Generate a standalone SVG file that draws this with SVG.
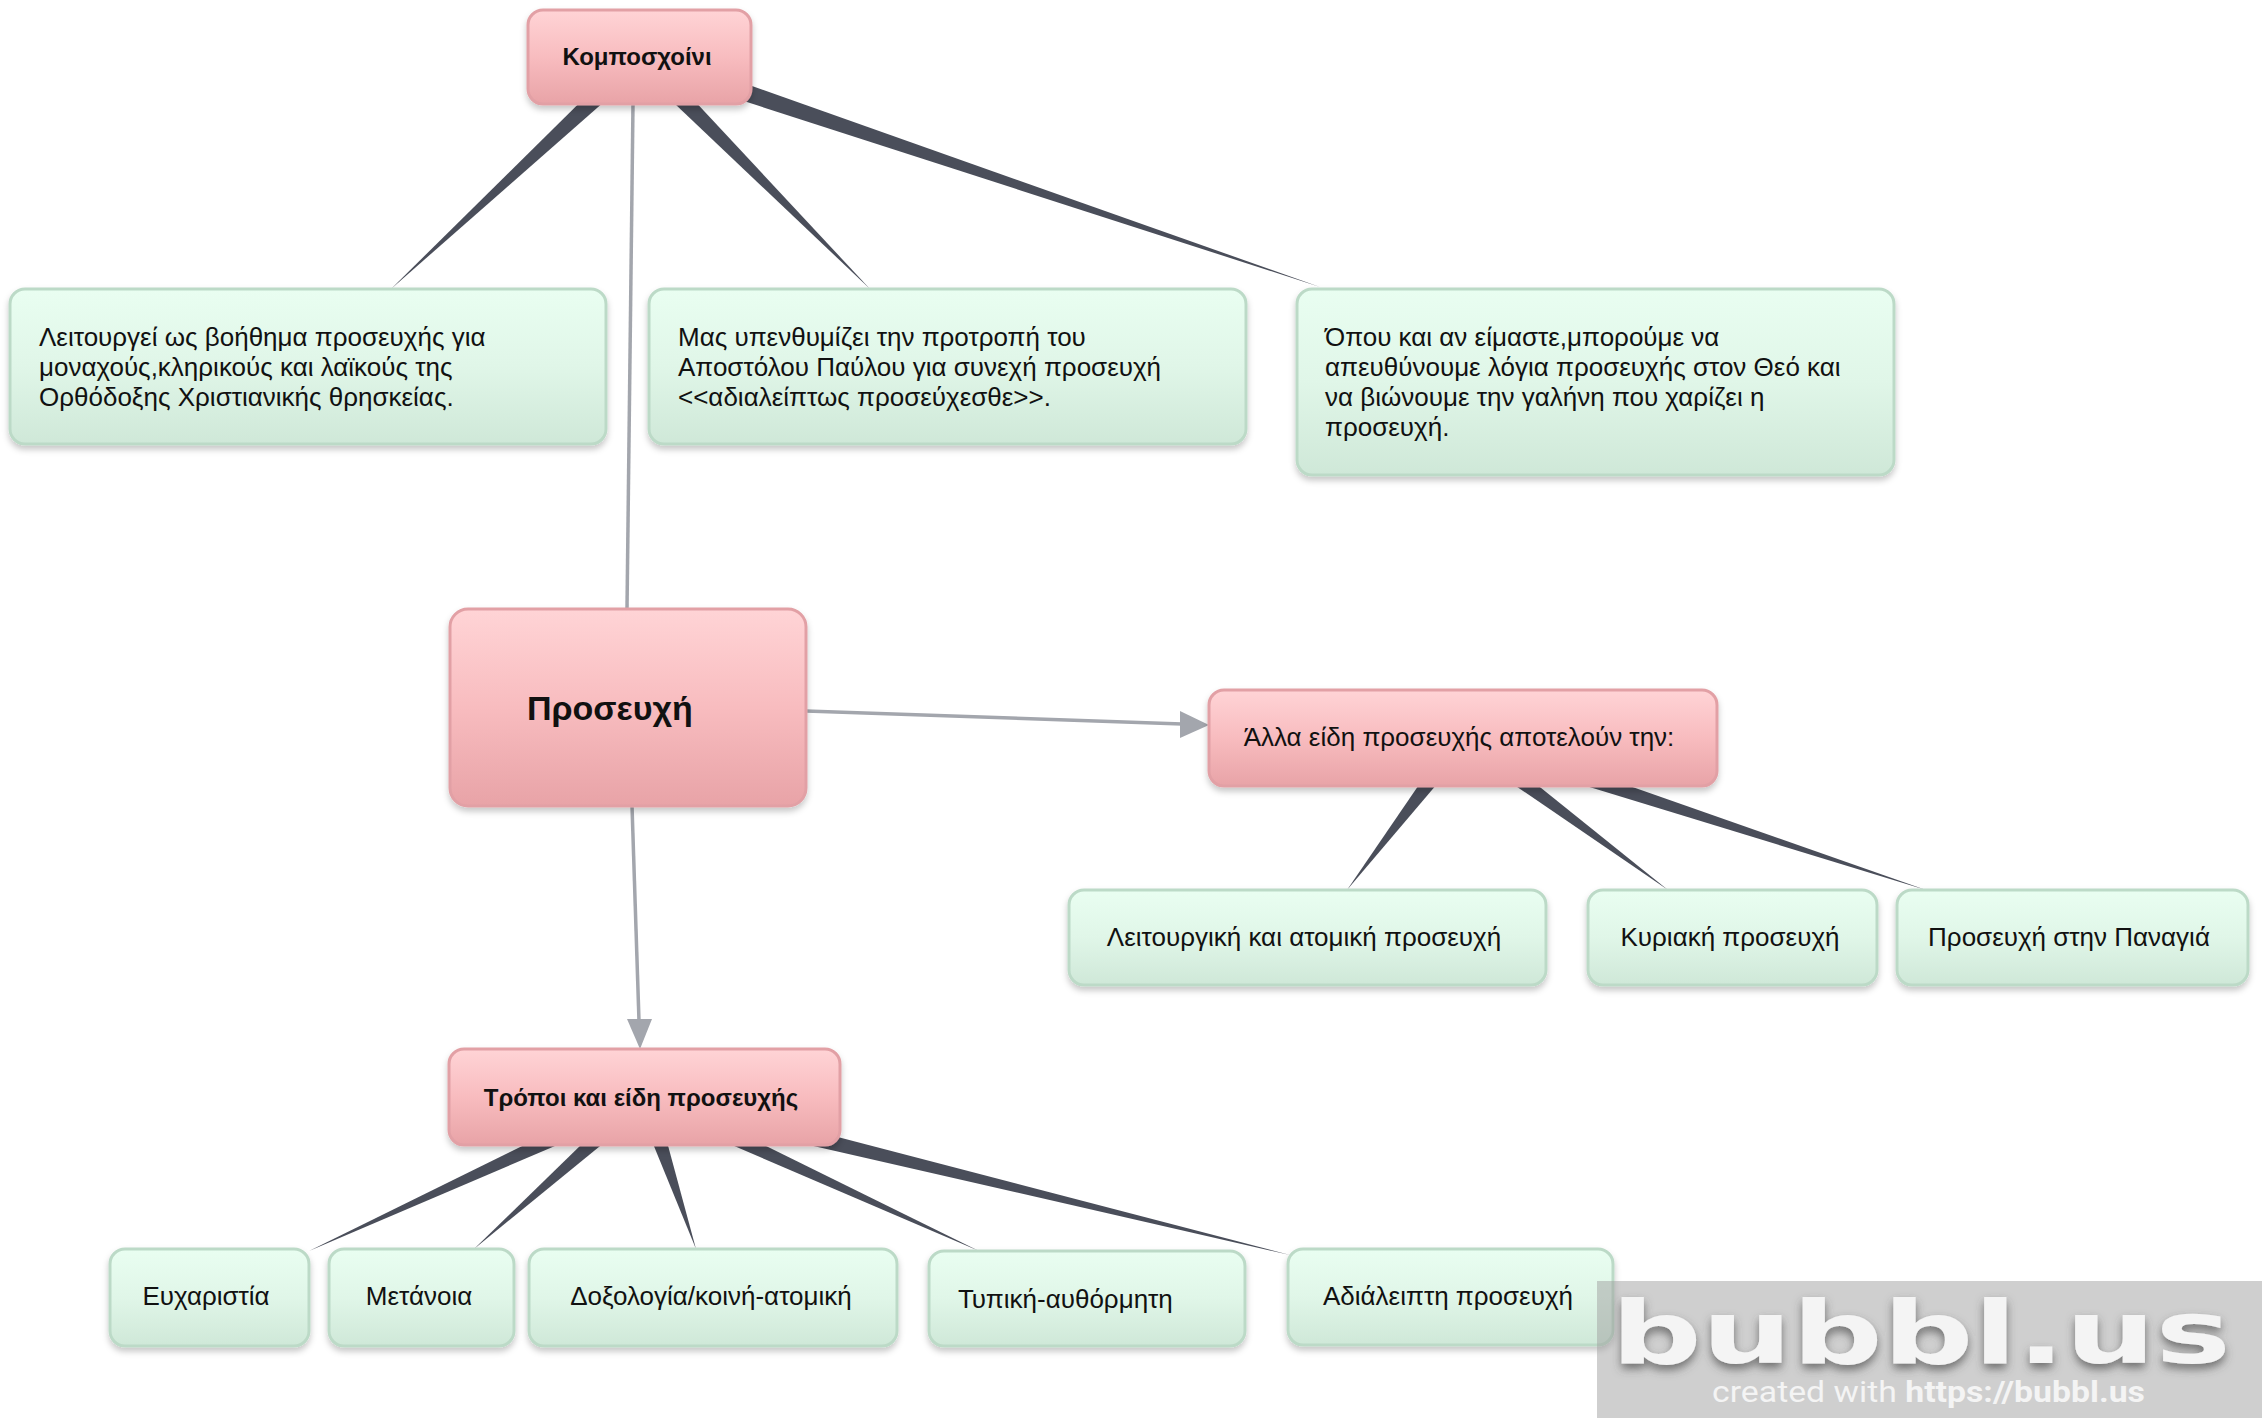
<svg xmlns="http://www.w3.org/2000/svg" width="2262" height="1418" viewBox="0 0 2262 1418">
  <defs>
    <linearGradient id="gPink" x1="0" y1="0" x2="0" y2="1">
      <stop offset="0" stop-color="#ffd4d6"/>
      <stop offset="0.5" stop-color="#f8bcbf"/>
      <stop offset="1" stop-color="#e8a3a7"/>
    </linearGradient>
    <linearGradient id="gGreen" x1="0" y1="0" x2="0" y2="1">
      <stop offset="0" stop-color="#e9fef1"/>
      <stop offset="0.5" stop-color="#e0f6e8"/>
      <stop offset="1" stop-color="#cfe8d8"/>
    </linearGradient>
    <filter id="shadow" x="-10%" y="-10%" width="120%" height="130%">
      <feDropShadow dx="0" dy="4" stdDeviation="3" flood-color="#000" flood-opacity="0.22"/>
    </filter>
    <filter id="logoShadow" x="-5%" y="-20%" width="110%" height="150%">
      <feDropShadow dx="0" dy="5" stdDeviation="5" flood-color="#444" flood-opacity="0.7"/>
    </filter>
  </defs>
  <style>
    .pink { fill: url(#gPink); stroke: #e2a0a5; stroke-width: 3; filter: url(#shadow); }
    .green { fill: url(#gGreen); stroke: #bcdac7; stroke-width: 3; filter: url(#shadow); }
    .t { font-family: "Liberation Sans", Arial, sans-serif; font-size: 26px; fill: #111; }
    .tb { font-family: "Liberation Sans", Arial, sans-serif; font-size: 24px; font-weight: bold; fill: #111; }
    .mid { text-anchor: middle; }
    .taper { fill: #4a4e5a; }
    .arrow { stroke: #a3a6ad; stroke-width: 3.5; fill: none; }
    .head { fill: #a3a6ad; }
  </style>

  <rect width="2262" height="1418" fill="#ffffff"/>

  <g id="connectors">
    <!-- Κομποσχοίνι children -->
    <polygon class="taper" points="633.2,49.7 646.8,64.3 391,289"/>
    <polygon class="taper" points="632.9,64.0 647.1,50.0 870,289"/>
    <polygon class="taper" points="636.8,66.5 643.2,47.5 1320,287"/>
    <!-- Άλλα children -->
    <polygon class="taper" points="1455.1,731.9 1470.9,744.1 1347,890"/>
    <polygon class="taper" points="1455.9,745.1 1470.1,730.9 1668,890"/>
    <polygon class="taper" points="1458.2,746.8 1467.8,729.2 1926,890"/>
    <!-- Τρόποι children -->
    <polygon class="taper" points="640.1,1088.1 648.9,1105.9 309,1251"/>
    <polygon class="taper" points="636.9,1090.4 652.1,1103.6 474,1249"/>
    <polygon class="taper" points="634.6,1098.8 654.4,1095.2 696,1249"/>
    <polygon class="taper" points="638.7,1105.1 650.3,1088.9 979,1251"/>
    <polygon class="taper" points="642.1,1106.7 646.9,1087.3 1290,1255"/>
    <!-- grey arrows -->
    <line class="arrow" x1="633" y1="104" x2="627" y2="609"/>
    <line class="arrow" x1="806" y1="711" x2="1182" y2="724"/>
    <polygon class="head" points="1209,725 1180,711 1180,738"/>
    <line class="arrow" x1="632" y1="806" x2="639" y2="1021"/>
    <polygon class="head" points="640,1049 627,1019 652,1019"/>
  </g>

  <g id="n-kombosxoini">
    <rect class="pink" x="528" y="10" width="223" height="94" rx="15"/>
    <text class="tb mid" x="637" y="65">Κομποσχοίνι</text>
  </g>

  <g id="n-green1">
    <rect class="green" x="10" y="289" width="596" height="155" rx="15"/>
    <text class="t" x="39" y="346">Λειτουργεί ως βοήθημα προσευχής για</text>
    <text class="t" x="39" y="376">μοναχούς,κληρικούς και λαϊκούς της</text>
    <text class="t" x="39" y="406">Ορθόδοξης Χριστιανικής θρησκείας.</text>
  </g>

  <g id="n-green2">
    <rect class="green" x="649" y="289" width="597" height="155" rx="15"/>
    <text class="t" x="678" y="346">Μας υπενθυμίζει την προτροπή του</text>
    <text class="t" x="678" y="376">Αποστόλου Παύλου για συνεχή προσευχή</text>
    <text class="t" x="678" y="406">&lt;&lt;αδιαλείπτως προσεύχεσθε&gt;&gt;.</text>
  </g>

  <g id="n-green3">
    <rect class="green" x="1297" y="289" width="597" height="186" rx="15"/>
    <text class="t" x="1325" y="346">Όπου και αν είμαστε,μπορούμε να</text>
    <text class="t" x="1325" y="376">απευθύνουμε λόγια προσευχής στον Θεό και</text>
    <text class="t" x="1325" y="406">να βιώνουμε την γαλήνη που χαρίζει η</text>
    <text class="t" x="1325" y="436">προσευχή.</text>
  </g>

  <g id="n-proseuxi">
    <rect class="pink" x="450" y="609" width="356" height="197" rx="18"/>
    <text class="tb" x="527" y="720" style="font-size:34px">Προσευχή</text>
  </g>

  <g id="n-alla">
    <rect class="pink" x="1209" y="690" width="508" height="96" rx="15"/>
    <text class="t mid" x="1459" y="746">Άλλα είδη προσευχής αποτελούν την:</text>
  </g>

  <g id="n-leitourgiki">
    <rect class="green" x="1069" y="890" width="477" height="95" rx="15"/>
    <text class="t mid" x="1304" y="946">Λειτουργική και ατομική προσευχή</text>
  </g>
  <g id="n-kyriaki">
    <rect class="green" x="1588" y="890" width="289" height="95" rx="15"/>
    <text class="t mid" x="1730" y="946">Κυριακή προσευχή</text>
  </g>
  <g id="n-panagia">
    <rect class="green" x="1897" y="890" width="351" height="95" rx="15"/>
    <text class="t mid" x="2069" y="946">Προσευχή στην Παναγιά</text>
  </g>

  <g id="n-tropoi">
    <rect class="pink" x="449" y="1049" width="391" height="96" rx="15"/>
    <text class="tb mid" x="641" y="1106">Τρόποι και είδη προσευχής</text>
  </g>

  <g id="n-euxaristia">
    <rect class="green" x="110" y="1249" width="199" height="97" rx="15"/>
    <text class="t mid" x="206" y="1305">Ευχαριστία</text>
  </g>
  <g id="n-metanoia">
    <rect class="green" x="329" y="1249" width="185" height="97" rx="15"/>
    <text class="t mid" x="419" y="1305">Μετάνοια</text>
  </g>
  <g id="n-doxologia">
    <rect class="green" x="529" y="1249" width="368" height="97" rx="15"/>
    <text class="t mid" x="711" y="1305">Δοξολογία/κοινή-ατομική</text>
  </g>
  <g id="n-typiki">
    <rect class="green" x="929" y="1251" width="316" height="95" rx="15"/>
    <text class="t" x="958" y="1308">Τυπική-αυθόρμητη</text>
  </g>
  <g id="n-adialeipti">
    <rect class="green" x="1288" y="1249" width="325" height="96" rx="15"/>
    <text class="t mid" x="1448" y="1305">Αδιάλειπτη προσευχή</text>
  </g>

  <g id="watermark">
    <rect x="1597" y="1281" width="665" height="137" fill="#a0a0a0" fill-opacity="0.5"/>
    <text x="1611" y="1363" font-family="'DejaVu Sans', sans-serif" font-weight="bold" font-size="88" fill="#f4f4f4" textLength="620" lengthAdjust="spacingAndGlyphs" filter="url(#logoShadow)">bubbl.us</text>
    <text x="1712" y="1402" font-family="Roboto, sans-serif" font-size="30" fill="#f4f4f4" textLength="433" lengthAdjust="spacingAndGlyphs">created with <tspan font-weight="bold">https://bubbl.us</tspan></text>
  </g>
</svg>
